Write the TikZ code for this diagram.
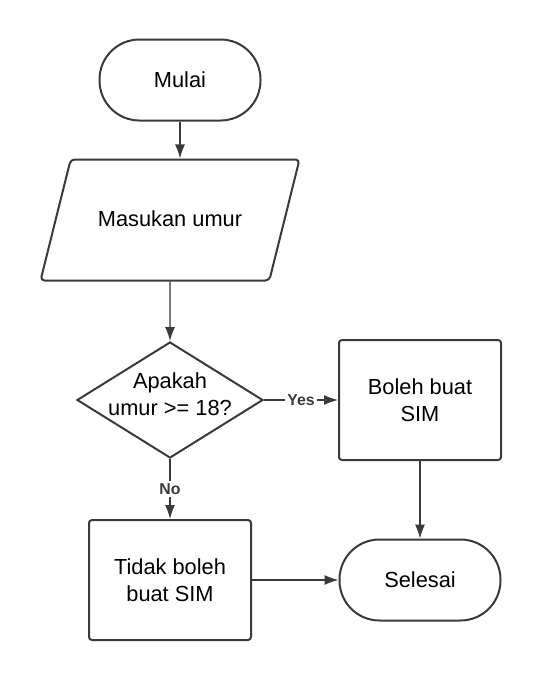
\documentclass[tikz,border=0pt]{standalone}
\usepackage{fontspec}
\setmainfont{Liberation Sans}
\usetikzlibrary{shapes.geometric,arrows.meta}

\definecolor{linegray}{HTML}{3A3A3A}

\begin{document}
\begin{tikzpicture}[x=0.5pt,y=-0.5pt,>={Latex[length=7pt,width=5pt]},node distance=90pt,
    font=\fontsize{10.9}{13.3}\selectfont,
    terminal/.style={rectangle,rounded corners=20pt,draw=linegray,line width=1pt,minimum width=80.5pt,minimum height=40.5pt},
    process/.style={rectangle,rounded corners=1.5pt,draw=linegray,line width=1pt,minimum width=81pt,minimum height=60pt,align=center},
    iobox/.style={trapezium,trapezium left angle=76,trapezium right angle=104,trapezium stretches body=true,rounded corners=2pt,draw=linegray,line width=1pt,
        text height=8pt,text depth=1.5pt,inner ysep=25.5pt,minimum width=129.5pt},
    decision/.style={diamond,draw=linegray,line width=1pt,minimum width=93pt,minimum height=58pt,inner sep=0pt},
    arr/.style={->,draw=linegray,fill=linegray,line width=0.6pt},
    lbl/.style={fill=white,inner sep=1pt,font=\fontsize{7.9}{9}\selectfont\bfseries,text=linegray}]

    \useasboundingbox (0,0) rectangle (540,680);

    \node[iobox] (masukan) at (170,220) {Masukan umur};
    \node[terminal] (mulai) [above of = masukan, node distance=70pt, xshift=5pt] {Mulai};
    \node[decision] (cek) [below of = masukan, label={[align=center,yshift=3pt]center:Apakah\\umur >= 18?}] {};
    \node[process] (boleh) [right of = cek, node distance=125pt] {Boleh buat\\SIM};
    \node[process] (tidak) [below of = cek] {Tidak boleh\\buat SIM};
    \node[terminal] (selesai) [below of = boleh] {Selesai};

    \draw[arr] (mulai) -- (mulai |- masukan.north);
    \draw[arr] (masukan) -- (cek);
    \draw[arr] (cek) -- node[lbl] {Yes} (boleh);
    \draw[arr] (cek) -- node[lbl] {No} (tidak);
    \draw[arr] (boleh) -- (selesai);
    \draw[arr] (tidak) -- (selesai);

\end{tikzpicture}
\end{document}
